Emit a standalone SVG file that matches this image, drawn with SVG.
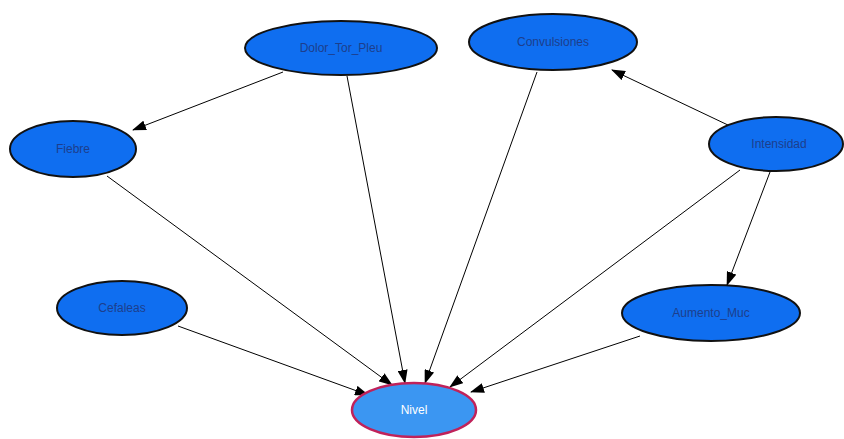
<svg xmlns="http://www.w3.org/2000/svg" width="844" height="439" viewBox="0 0 844 439">
<defs>
<marker id="arr" viewBox="0 0 14 10" refX="13" refY="5" markerWidth="14" markerHeight="10" markerUnits="userSpaceOnUse" orient="auto">
<path d="M0,0 L14,5 L0,10 Z" fill="#000"/>
</marker>
<style>
.n ellipse{fill:#0f6ef0;stroke:#111;stroke-width:2}
.n text{font-family:"Liberation Sans",Arial,sans-serif;font-size:12px;fill:#1d3e8c;text-anchor:middle;dominant-baseline:central}
#nivel ellipse{fill:#3b96f2;stroke:#c0225a;stroke-width:2.5}
#nivel text{fill:#fff}
.e line{stroke:#000;stroke-width:1;marker-end:url(#arr)}
</style>
</defs>
<rect width="844" height="439" fill="#fff"/>
<g class="e" id="edges">
<line x1="283" y1="72" x2="133" y2="130"/>
<line x1="347" y1="76" x2="405" y2="383"/>
<line x1="537" y1="72" x2="425" y2="383"/>
<line x1="730" y1="126" x2="612" y2="70"/>
<line x1="740" y1="170" x2="450" y2="387"/>
<line x1="770" y1="172" x2="727" y2="285"/>
<line x1="107" y1="176" x2="392" y2="385"/>
<line x1="178" y1="326" x2="368" y2="395"/>
<line x1="640" y1="336" x2="471" y2="392"/>
</g>
<g class="n" id="dolor"><ellipse cx="341" cy="48" rx="96" ry="27"/><text x="341" y="48">Dolor_Tor_Pleu</text></g>
<g class="n" id="convulsiones"><ellipse cx="553" cy="42" rx="84" ry="28"/><text x="553" y="42">Convulsiones</text></g>
<g class="n" id="fiebre"><ellipse cx="73" cy="149" rx="63" ry="28"/><text x="73" y="149">Fiebre</text></g>
<g class="n" id="intensidad"><ellipse cx="776" cy="144" rx="67" ry="27"/><text x="779" y="144">Intensidad</text></g>
<g class="n" id="cefaleas"><ellipse cx="122" cy="308" rx="65" ry="27"/><text x="122" y="308">Cefaleas</text></g>
<g class="n" id="aumento"><ellipse cx="711" cy="313" rx="89" ry="28"/><text x="711" y="313">Aumento_Muc</text></g>
<g class="n" id="nivel"><ellipse cx="414" cy="410" rx="62" ry="27"/><text x="414" y="410">Nivel</text></g>
</svg>
